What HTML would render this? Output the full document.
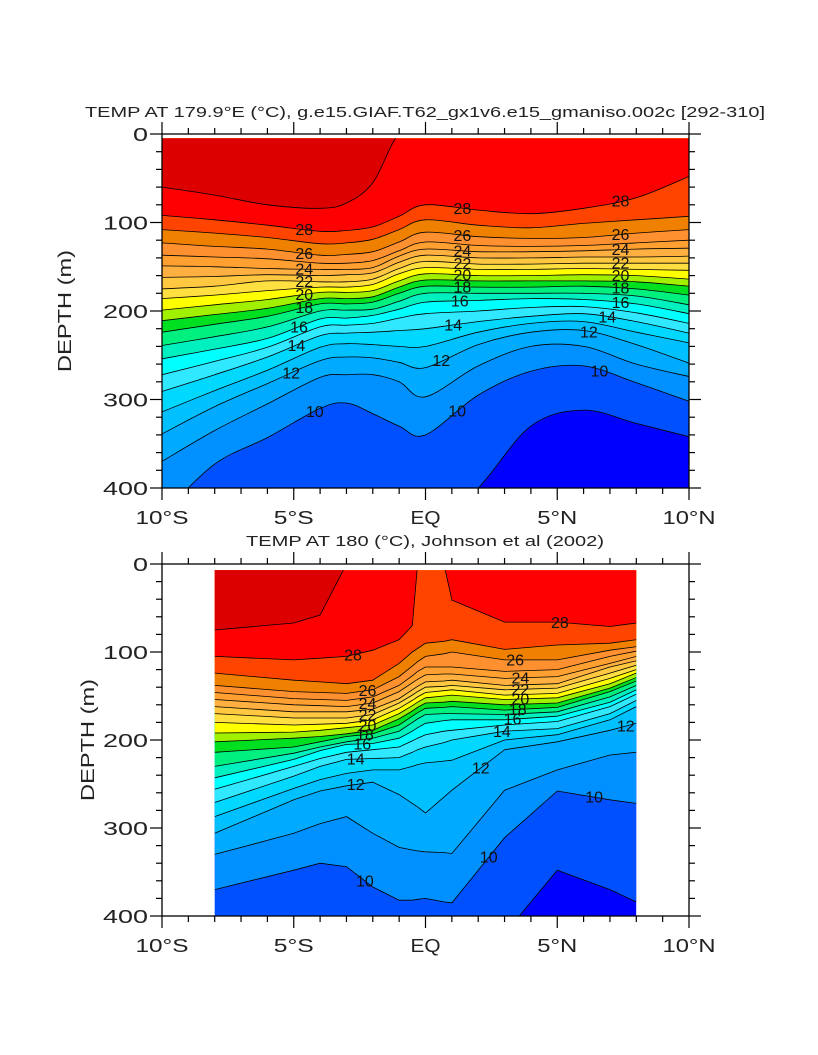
<!DOCTYPE html>
<html><head><meta charset="utf-8"><style>
html,body{margin:0;padding:0;background:#fff;}
svg{display:block;font-family:"Liberation Sans",sans-serif;}
</style></head><body>
<svg id="chart" width="818" height="1055" viewBox="0 0 818 1055" xmlns="http://www.w3.org/2000/svg">
<defs>
<clipPath id="clipTop"><rect x="162" y="138.4" width="527" height="349.6"/></clipPath>
<clipPath id="clipBot"><rect x="214.7" y="570.2" width="421.6" height="345.8"/></clipPath>
</defs>
<g id="topPanel"></g>
<g id="botPanel"></g>
<text x="425" y="117" font-size="15" fill="#222" text-anchor="middle" textLength="680" lengthAdjust="spacingAndGlyphs">TEMP AT 179.9°E (°C), g.e15.GIAF.T62_gx1v6.e15_gmaniso.002c [292-310]</text>
<text x="425" y="546" font-size="15" fill="#222" text-anchor="middle" textLength="358" lengthAdjust="spacingAndGlyphs">TEMP AT 180 (°C), Johnson et al (2002)</text>
<text transform="translate(71,311) rotate(-90)" font-size="18" fill="#222" text-anchor="middle" textLength="122" lengthAdjust="spacingAndGlyphs">DEPTH (m)</text>
<text transform="translate(94,740) rotate(-90)" font-size="18" fill="#222" text-anchor="middle" textLength="122" lengthAdjust="spacingAndGlyphs">DEPTH (m)</text>
</svg>
<script>
// ---- shared data ----
const levels = [9,10,11,12,13,14,15,16,17,18,19,20,21,22,23,24,25,26,27,28,29];
const bandColors = ["#0050ff","#0090ff","#00aaff","#00c0ff","#00d8ff","#30e8ff","#00ffff","#00f0c0","#00f080","#00e020","#a0f000","#ffff00","#ffe040","#ffc840","#ffb040","#ffa030","#ff9030","#f08000","#ff4400","#ff0000","#dc0000"];
const coldColor = "#0000ff";
const xTickLabels = ["10°S","5°S","EQ","5°N","10°N"];
const xTickLats = [-10,-5,0,5,10];
const yTickLabels = ["0","100","200","300","400"];
const yTickDepths = [0,100,200,300,400];

// ---- top panel (model) isotherm depths (m) ----
const latsTop = [-10,-8,-6,-4,-3,-2,-1,0,2,4,6,8,10];
const T9  = [500,500,500,500,500,500,500,450,400,330,312,327,342];
const T10 = [430,373,343,310,304,316,330,340,295,268,262,281,302];
const T11 = [370,335,305,275,272,272,280,297,262,240,240,260,274];
const T12 = [339,308,282,256,252,253,258,264,238,224,222,238,259];
const T13 = [314,290,267,241,237,238,240,240,224,214,212,224,236];
const T14 = [291,272,252,228,225,224,222,220,212,206,203,212,225];
const T15 = [272,257,241,218,216,214,208,203,200,196,195,202,214];
const T16 = [254,243,231,209,208,205,198,190,188,186,187,192,203];
const T17 = [239,229,218,200,199,198,189,180,180,180,180,183,193];
const T18 = [224,215,206,192,192,190,180,172,173,173,172,175,182];
const T19 = [211,204,197,186,186,184,173,165,166,166,166,167,172];
const T20 = [199,193,187,179,179,177,166,158,160,160,159,160,164];
const T21 = [186,182,177,173,173,170,158,151,153,153,152,153,154];
const T22 = [175,172,166,167,167,164,152,144,147,147,146,146,146];
const T23 = [162,161,159,160,159,157,145,137,140,140,139,139,138];
const T24 = [149,150,152,153,153,151,138,130,133,133,132,130,129];
const T25 = [137,139,141,146,146,143,132,122,126,127,126,123,120];
const T26 = [123,127,130,137,136,133,122,111,116,118,117,112,108];
const T27 = [108,112,117,124,123,119,108,97,103,106,101,97,93];
const T28 = [92,97,103,110,109,105,93,80,86,90,84,72,48];
const T29 = [60,69,80,84,78,55,0,0,0,0,0,0,0];
const topDepths = [T9,T10,T11,T12,T13,T14,T15,T16,T17,T18,T19,T20,T21,T22,T23,T24,T25,T26,T27,T28,T29];
const topLabelLats = [-4.6,-4.6,-4.6,-4.6,-4.6,-4.6,-4.8,-4.9,-5.1,-4.2, 1.4,1.4,1.4,1.4,1.4,1.4,1.3,1.05,0.6,1.2, 7.4,7.4,7.4,7.4,7.4,7.4,7.4,6.9,6.2,6.6];
const topLabelLevels = [28,26,24,22,20,18,16,14,12,10, 28,26,24,22,20,18,16,14,12,10, 28,26,24,22,20,18,16,14,12,10];

// ---- bottom panel (observed) isotherm depths (m) ----
const latsBot = [-8,-5,-4,-3,-2,-1,-0.5,-0.3,0,0.7,1,3,5,7,8];
const B9  = [480,480,480,480,480,480,480,480,480,480,480,420,348,370,384];
const B10 = [370,348,340,344,367,382,382,381,380,384,385,311,258,268,272];
const B11 = [330,306,295,287,306,322,325,326,327,328,329,257,234,217,214];
const B12 = [306,268,258,252,248,262,272,276,283,265,257,211,202,189,181];
const B13 = [287,255,245,238,234,234,230,228,226,224,223,200,194,177,162];
const B14 = [271,241,230,222,221,220,214,211,208,203,200,190,187,170,155];
const B15 = [256,230,221,214,211,208,201,198,194,190,189,183,179,162,148];
const B16 = [243,222,212,205,204,198,190,186,181,178,177,177,173,157,143];
const B17 = [230,215,208,202,198,190,180,176,171,170,170,171,168,151,138];
const B18 = [214,208,202,196,193,183,173,169,164,163,162,166,163,145,133];
const B19 = [202,198,196,193,189,176,167,163,158,157,156,160,158,141,129];
const B20 = [192,191,189,186,183,170,161,157,152,150,149,154,152,136,124];
const B21 = [180,183,182,181,177,164,155,151,146,144,143,149,147,130,120];
const B22 = [170,175,175,175,171,158,149,145,140,139,138,143,141,124,115];
const B23 = [162,168,168,168,165,153,143,139,134,133,132,138,136,117,110];
const B24 = [154,160,161,162,158,145,135,131,126,125,125,130,128,113,105];
const B25 = [146,153,154,155,151,138,127,122,117,117,117,122,120,105,99];
const B26 = [138,145,146,147,143,128,116,111,105,102,100,109,109,98,94];
const B27 = [124,132,134,136,132,113,100,96,90,88,86,97,92,90,86];
const B28 = [105,109,107,105,98,86,70,0,0,0,41,66,66,71,67];
const B29 = [75,67,58,0,0,0,0,0,0,0,0,0,0,0,0];
const botDepths = [B9,B10,B11,B12,B13,B14,B15,B16,B17,B18,B19,B20,B21,B22,B23,B24,B25,B26,B27,B28,B29];
const botLabelLats = [-2.75,-2.2,-2.2,-2.2,-2.2,-2.3,-2.4,-2.65,-2.65,-2.3, 5.1,3.4,3.6,3.6,3.6,3.5,3.3,2.9,2.1,2.4,6.4,7.6];
const botLabelLevels = [28,26,24,22,20,18,16,14,12,10, 28,26,24,22,20,18,16,14,12,10,10,12];

const NS = "http://www.w3.org/2000/svg";
function mk(tag, attrs, parent){
  const e = document.createElementNS(NS, tag);
  for (const k in attrs) e.setAttribute(k, attrs[k]);
  parent.appendChild(e);
  return e;
}
function xOf(lat){ return 162 + (lat + 10) * 26.35; }

function linePath(pts, smooth){
  let d = "M" + pts[0][0].toFixed(1) + "," + pts[0][1].toFixed(1);
  for (let i = 0; i < pts.length - 1; i++){
    const p0 = pts[Math.max(i-1,0)], p1 = pts[i], p2 = pts[i+1], p3 = pts[Math.min(i+2,pts.length-1)];
    if (smooth){
      const c1x = p1[0] + (p2[0]-p0[0])/6, c1y = p1[1] + (p2[1]-p0[1])/6;
      const c2x = p2[0] - (p3[0]-p1[0])/6, c2y = p2[1] - (p3[1]-p1[1])/6;
      d += " C" + c1x.toFixed(1) + "," + c1y.toFixed(1) + " " + c2x.toFixed(1) + "," + c2y.toFixed(1) + " " + p2[0].toFixed(1) + "," + p2[1].toFixed(1);
    } else {
      d += " L" + p2[0].toFixed(1) + "," + p2[1].toFixed(1);
    }
  }
  return d;
}
function interp(lats, vals, lat){
  for (let i = 0; i < lats.length - 1; i++){
    if (lat >= lats[i] && lat <= lats[i+1]){
      const t = (lat - lats[i]) / (lats[i+1] - lats[i]);
      return vals[i] + t * (vals[i+1] - vals[i]);
    }
  }
  return vals[vals.length-1];
}

function drawPanel(g, clipId, lats, depths, yOf, smooth, labLats, labLevels, frameTop, frameBot, prefix){
  const gc = mk("g", {"clip-path": "url(#" + clipId + ")"}, g);
  const bg = mk("rect", {x: xOf(lats[0]), y: yOf(-20), width: xOf(lats[lats.length-1]) - xOf(lats[0]), height: yOf(420) - yOf(-20), fill: coldColor}, gc);
  
  
  for (let k = 0; k < levels.length; k++){
    const pts = lats.map((la, i) => [xOf(la), yOf(depths[k][i])]);
    const d = linePath(pts, smooth) + " L" + xOf(lats[lats.length-1]).toFixed(1) + "," + yOf(-30).toFixed(1) + " L" + xOf(lats[0]).toFixed(1) + "," + yOf(-30).toFixed(1) + " Z";
    const band = mk("path", {d: d, fill: bandColors[k], stroke: "none"}, gc);
    
    
  }
  for (let k = 0; k < levels.length; k++){
    const pts = lats.map((la, i) => [xOf(la), yOf(depths[k][i])]);
    const ln = mk("path", {d: linePath(pts, smooth), fill: "none", stroke: "#000", "stroke-width": "0.8"}, gc);
    
    
  }
  for (let j = 0; j < labLats.length; j++){
    const k = levels.indexOf(labLevels[j]);
    const y = yOf(interp(lats, depths[k], labLats[j]));
    const t = mk("text", {x: xOf(labLats[j]).toFixed(1), y: (y + 5.5).toFixed(1), "font-size": "16", "text-anchor": "middle", fill: "#111"}, g);
    t.textContent = String(labLevels[j]);
    
    
  }
  const fr = mk("rect", {x: 162, y: frameTop, width: 527, height: frameBot - frameTop, fill: "none", stroke: "#000", "stroke-width": "1.3"}, g);
  
  
  for (let la = -10; la <= 10; la++){
    const major = (la % 5 === 0);
    const L = major ? 12 : 6;
    const x = xOf(la);
    const tb = mk("line", {x1: x, x2: x, y1: frameBot, y2: frameBot + L, stroke: "#000", "stroke-width": "1.2"}, g);
    
    
    const tt = mk("line", {x1: x, x2: x, y1: frameTop, y2: frameTop - L, stroke: "#000", "stroke-width": "1.2"}, g);
    
    
  }
  for (let i = 0; i < xTickLats.length; i++){
    const lbl = xTickLabels[i];
    const w = lbl.length === 4 ? 53 : (lbl === "EQ" ? 30 : 40);
    const t = mk("text", {x: xOf(xTickLats[i]), y: frameBot + 36, "font-size": "18", fill: "#222", "text-anchor": "middle", textLength: w, lengthAdjust: "spacingAndGlyphs"}, g);
    t.textContent = lbl;
    
    
  }
  for (let d = 0; d <= 400; d += 20){
    const major = (d % 100 === 0);
    const L = major ? 12 : 6;
    const y = yOf(d);
    const tl = mk("line", {x1: 162, x2: 162 - L, y1: y, y2: y, stroke: "#000", "stroke-width": "1.2"}, g);
    
    
    const tr = mk("line", {x1: 689, x2: 689 + L, y1: y, y2: y, stroke: "#000", "stroke-width": "1.2"}, g);
    
    
  }
  for (let i = 0; i < yTickDepths.length; i++){
    const lbl = yTickLabels[i];
    const t = mk("text", {x: 148, y: yOf(yTickDepths[i]) + 7, "font-size": "18", fill: "#222", "text-anchor": "end", textLength: lbl.length * 15, lengthAdjust: "spacingAndGlyphs"}, g);
    t.textContent = lbl;
    
    
  }
}

drawPanel(document.getElementById("topPanel"), "clipTop", latsTop, topDepths, d => 134 + d * 0.885, true, topLabelLats, topLabelLevels, 134, 488, "top");
drawPanel(document.getElementById("botPanel"), "clipBot", latsBot, botDepths, d => 564 + d * 0.88, false, botLabelLats, botLabelLevels, 564, 916, "bottom");
</script>
</body></html>
